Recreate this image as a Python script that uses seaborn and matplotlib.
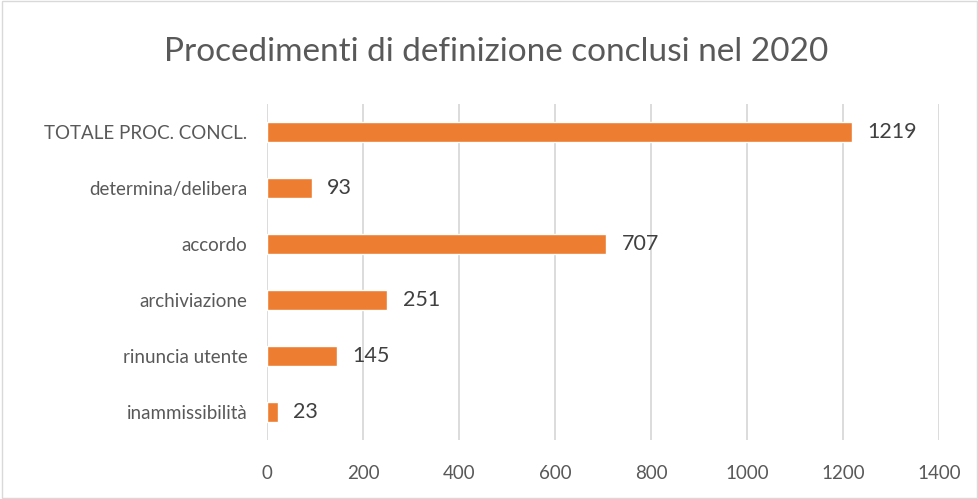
import seaborn as sns
import pandas as pd
import matplotlib.pyplot as plt

categorie = ['TOTALE PROC. CONCL.', 'determina/delibera', 'accordo',
             'archiviazione', 'rinuncia utente', 'inammissibilità']
valori = [1219, 93, 707, 251, 145, 23]

df = pd.DataFrame({'categoria': categorie, 'valore': valori})

sns.set_style("white")
plt.rcParams['font.family'] = ['Lato', 'DejaVu Sans']
grigio = '#595959'

fig = plt.figure(figsize=(9.79, 4.99), dpi=100)
ax = fig.add_axes([0.2727, 0.1182, 0.6865, 0.6734])

sns.barplot(data=df, x='valore', y='categoria', color='#ED7D31',
            width=0.36, saturation=1, ax=ax, orient='h')

for cont in ax.containers:
    ax.bar_label(cont, padding=11, fontsize=15.5, color='#404040')

ax.set_xlim(0, 1400)
ax.set_xticks(range(0, 1401, 200))
ax.xaxis.grid(True, color='#D9D9D9', linewidth=1.3)
ax.set_axisbelow(True)
for s in ax.spines.values():
    s.set_visible(False)
ax.tick_params(axis='both', length=0, labelsize=13.5, labelcolor=grigio)
ax.tick_params(axis='x', pad=18)
ax.tick_params(axis='y', pad=14)
ax.set_xlabel('')
ax.set_ylabel('')

fig.text(0.507, 0.896, 'Procedimenti di definizione conclusi nel 2020',
         ha='center', va='center', fontsize=24, color=grigio)

fig.patches.append(plt.Rectangle((0.002, 0.002), 0.996, 0.996, transform=fig.transFigure,
                                 fill=False, edgecolor='#D9D9D9', linewidth=1))

fig.savefig('out.png', dpi=100)
